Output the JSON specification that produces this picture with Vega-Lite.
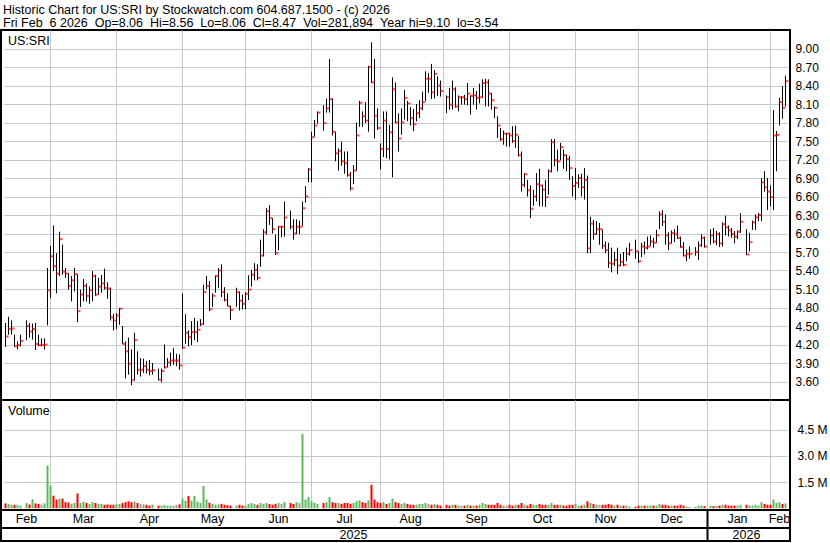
{
"$schema": "https://vega.github.io/schema/vega-lite/v6.json",
"padding": {"top": 4, "left": 0, "right": 0, "bottom": 0},
"background": "white",
"bounds": "flush",
"title": {"text": "Historic Chart for US:SRI by Stockwatch.com 604.687.1500 - (c) 2026", "subtitle": "Fri Feb \u00a06 2026 \u00a0Op=8.06 \u00a0Hi=8.56 \u00a0Lo=8.06 \u00a0Cl=8.47 \u00a0Vol=281,894 \u00a0Year hi=9.10 \u00a0lo=3.54", "anchor": "start", "frame": "group", "font": "Liberation Sans", "fontSize": 12.5, "fontWeight": "normal", "color": "black", "subtitleFont": "Liberation Sans", "subtitleFontSize": 12.5, "subtitleColor": "black", "subtitlePadding": 0, "offset": 0, "dx": 2},
"config": {
  "font": "Liberation Sans",
  "view": {"stroke": "black", "strokeWidth": 2},
  "axis": {"labelFont": "Liberation Sans", "labelFontSize": 12, "labelColor": "black", "gridColor": "#c8c8c8", "gridWidth": 1, "ticks": false, "domain": false, "title": null, "labelOverlap": false},
  "title": {"font": "Liberation Sans", "fontSize": 12.5, "fontWeight": "normal", "color": "black", "anchor": "start"}
},
"resolve": {"scale": {"x": "shared"}},
"spacing": 0,
"datasets": {
"px": [
{"d":"2025-02-07","h":4.55,"l":4.16,"c":4.33,"v":0.28,"dir":"down"},
{"d":"2025-02-10","h":4.65,"l":4.36,"c":4.45,"v":0.25,"dir":"up"},
{"d":"2025-02-11","h":4.59,"l":4.36,"c":4.46,"v":0.2,"dir":"up"},
{"d":"2025-02-12","h":4.36,"l":4.16,"c":4.17,"v":0.2,"dir":"down"},
{"d":"2025-02-13","h":4.25,"l":4.12,"c":4.19,"v":0.18,"dir":"up"},
{"d":"2025-02-14","h":4.36,"l":4.17,"c":4.26,"v":0.15,"dir":"up"},
{"d":"2025-02-17","v":0},
{"d":"2025-02-18","h":4.59,"l":4.27,"c":4.5,"v":0.3,"dir":"up"},
{"d":"2025-02-19","h":4.55,"l":4.31,"c":4.41,"v":0.22,"dir":"down"},
{"d":"2025-02-20","h":4.54,"l":4.28,"c":4.45,"v":0.52,"dir":"up"},
{"d":"2025-02-21","h":4.55,"l":4.11,"c":4.21,"v":0.28,"dir":"down"},
{"d":"2025-02-24","h":4.36,"l":4.17,"c":4.19,"v":0.25,"dir":"down"},
{"d":"2025-02-25","h":4.3,"l":4.17,"c":4.19,"v":0.2,"dir":"flat"},
{"d":"2025-02-26","h":4.3,"l":4.12,"c":4.2,"v":0.28,"dir":"up"},
{"d":"2025-02-27","h":5.44,"l":4.51,"c":5.08,"v":2.45,"dir":"up"},
{"d":"2025-02-28","h":5.8,"l":4.95,"c":5.63,"v":1.3,"dir":"up"},
{"d":"2025-03-03","h":6.13,"l":5.39,"c":5.47,"v":0.72,"dir":"down"},
{"d":"2025-03-04","h":5.68,"l":5.03,"c":5.35,"v":0.5,"dir":"down"},
{"d":"2025-03-05","h":6.03,"l":5.31,"c":5.91,"v":0.55,"dir":"up"},
{"d":"2025-03-06","h":5.82,"l":5.33,"c":5.38,"v":0.55,"dir":"down"},
{"d":"2025-03-07","h":5.44,"l":5.28,"c":5.35,"v":0.35,"dir":"down"},
{"d":"2025-03-10","h":5.36,"l":5.09,"c":5.15,"v":0.33,"dir":"down"},
{"d":"2025-03-11","h":5.31,"l":4.9,"c":5.24,"v":0.25,"dir":"up"},
{"d":"2025-03-12","h":5.44,"l":5.06,"c":5.34,"v":0.3,"dir":"up"},
{"d":"2025-03-13","h":5.34,"l":4.56,"c":4.74,"v":0.85,"dir":"down"},
{"d":"2025-03-14","h":5.09,"l":4.81,"c":5.01,"v":0.3,"dir":"up"},
{"d":"2025-03-17","h":5.26,"l":4.9,"c":5.15,"v":0.38,"dir":"up"},
{"d":"2025-03-18","h":5.19,"l":4.9,"c":4.99,"v":0.3,"dir":"down"},
{"d":"2025-03-19","h":5.14,"l":4.86,"c":5.08,"v":0.25,"dir":"up"},
{"d":"2025-03-20","h":5.39,"l":4.9,"c":5.31,"v":0.35,"dir":"up"},
{"d":"2025-03-21","h":5.33,"l":4.99,"c":5.01,"v":0.3,"dir":"down"},
{"d":"2025-03-24","h":5.28,"l":5.01,"c":5.14,"v":0.25,"dir":"up"},
{"d":"2025-03-25","h":5.33,"l":5.04,"c":5.19,"v":0.25,"dir":"up"},
{"d":"2025-03-26","h":5.43,"l":5.09,"c":5.12,"v":0.2,"dir":"down"},
{"d":"2025-03-27","h":5.21,"l":4.94,"c":5.11,"v":0.22,"dir":"down"},
{"d":"2025-03-28","h":5.12,"l":4.59,"c":4.64,"v":0.2,"dir":"down"},
{"d":"2025-03-31","h":4.7,"l":4.43,"c":4.59,"v":0.2,"dir":"down"},
{"d":"2025-04-01","h":4.71,"l":4.45,"c":4.67,"v":0.22,"dir":"up"},
{"d":"2025-04-02","h":4.79,"l":4.52,"c":4.78,"v":0.25,"dir":"up"},
{"d":"2025-04-03","h":4.5,"l":4.21,"c":4.21,"v":0.3,"dir":"down"},
{"d":"2025-04-04","h":4.25,"l":3.65,"c":4.09,"v":0.35,"dir":"down"},
{"d":"2025-04-07","h":4.31,"l":3.71,"c":3.89,"v":0.4,"dir":"down"},
{"d":"2025-04-08","h":4.12,"l":3.54,"c":3.62,"v":0.35,"dir":"down"},
{"d":"2025-04-09","h":4.39,"l":3.62,"c":4.27,"v":0.38,"dir":"up"},
{"d":"2025-04-10","h":4.09,"l":3.71,"c":3.79,"v":0.3,"dir":"down"},
{"d":"2025-04-11","h":3.98,"l":3.68,"c":3.79,"v":0.25,"dir":"flat"},
{"d":"2025-04-14","h":3.97,"l":3.74,"c":3.85,"v":0.22,"dir":"up"},
{"d":"2025-04-15","h":3.93,"l":3.73,"c":3.79,"v":0.2,"dir":"down"},
{"d":"2025-04-16","h":3.95,"l":3.7,"c":3.77,"v":0.15,"dir":"down"},
{"d":"2025-04-17","h":3.9,"l":3.71,"c":3.78,"v":0.2,"dir":"up"},
{"d":"2025-04-18","v":0},
{"d":"2025-04-21","h":3.81,"l":3.62,"c":3.63,"v":0.15,"dir":"down"},
{"d":"2025-04-22","h":3.81,"l":3.59,"c":3.77,"v":0.15,"dir":"up"},
{"d":"2025-04-23","h":4.2,"l":3.81,"c":3.83,"v":0.18,"dir":"up"},
{"d":"2025-04-24","h":3.98,"l":3.83,"c":3.91,"v":0.15,"dir":"up"},
{"d":"2025-04-25","h":4.07,"l":3.85,"c":3.94,"v":0.15,"dir":"up"},
{"d":"2025-04-28","h":4.14,"l":3.87,"c":3.94,"v":0.15,"dir":"flat"},
{"d":"2025-04-29","h":4.05,"l":3.85,"c":3.94,"v":0.2,"dir":"flat"},
{"d":"2025-04-30","h":4.04,"l":3.79,"c":3.86,"v":0.22,"dir":"down"},
{"d":"2025-05-01","h":5.03,"l":4.13,"c":4.15,"v":0.55,"dir":"up"},
{"d":"2025-05-02","h":4.69,"l":4.21,"c":4.39,"v":0.42,"dir":"up"},
{"d":"2025-05-05","h":4.43,"l":4.17,"c":4.32,"v":0.7,"dir":"down"},
{"d":"2025-05-06","h":4.58,"l":4.19,"c":4.4,"v":0.45,"dir":"up"},
{"d":"2025-05-07","h":4.63,"l":4.27,"c":4.4,"v":0.7,"dir":"up"},
{"d":"2025-05-08","h":4.58,"l":4.24,"c":4.44,"v":0.38,"dir":"up"},
{"d":"2025-05-09","h":4.61,"l":4.5,"c":4.53,"v":0.3,"dir":"up"},
{"d":"2025-05-12","h":5.17,"l":4.52,"c":5.05,"v":1.28,"dir":"up"},
{"d":"2025-05-13","h":5.31,"l":5.1,"c":5.15,"v":0.5,"dir":"up"},
{"d":"2025-05-14","h":5.23,"l":4.74,"c":4.77,"v":0.32,"dir":"down"},
{"d":"2025-05-15","h":5.03,"l":4.81,"c":4.99,"v":0.25,"dir":"up"},
{"d":"2025-05-16","h":5.32,"l":5.04,"c":5.31,"v":0.2,"dir":"up"},
{"d":"2025-05-19","h":5.44,"l":5.12,"c":5.4,"v":0.22,"dir":"up"},
{"d":"2025-05-20","h":5.5,"l":4.97,"c":5.05,"v":0.25,"dir":"down"},
{"d":"2025-05-21","h":5.13,"l":4.9,"c":4.92,"v":0.2,"dir":"down"},
{"d":"2025-05-22","h":5.03,"l":4.82,"c":4.82,"v":0.18,"dir":"down"},
{"d":"2025-05-23","h":4.83,"l":4.6,"c":4.76,"v":0.15,"dir":"down"},
{"d":"2025-05-26","v":0},
{"d":"2025-05-27","h":5.12,"l":4.81,"c":5.05,"v":0.15,"dir":"up"},
{"d":"2025-05-28","h":5.06,"l":4.75,"c":4.91,"v":0.2,"dir":"down"},
{"d":"2025-05-29","h":5.01,"l":4.77,"c":4.86,"v":0.15,"dir":"down"},
{"d":"2025-05-30","h":5.05,"l":4.77,"c":5.02,"v":0.15,"dir":"up"},
{"d":"2025-06-02","h":5.32,"l":4.92,"c":5.09,"v":0.25,"dir":"up"},
{"d":"2025-06-03","h":5.41,"l":5.14,"c":5.33,"v":0.3,"dir":"up"},
{"d":"2025-06-04","h":5.52,"l":5.24,"c":5.41,"v":0.25,"dir":"up"},
{"d":"2025-06-05","h":5.5,"l":5.24,"c":5.28,"v":0.2,"dir":"down"},
{"d":"2025-06-06","h":5.9,"l":5.46,"c":5.64,"v":0.3,"dir":"up"},
{"d":"2025-06-09","h":6.07,"l":5.63,"c":6.02,"v":0.25,"dir":"up"},
{"d":"2025-06-10","h":6.41,"l":5.98,"c":6.36,"v":0.3,"dir":"up"},
{"d":"2025-06-11","h":6.46,"l":6.14,"c":6.25,"v":0.25,"dir":"down"},
{"d":"2025-06-12","h":6.25,"l":6.0,"c":6.07,"v":0.2,"dir":"down"},
{"d":"2025-06-13","h":5.98,"l":5.65,"c":5.68,"v":0.25,"dir":"down"},
{"d":"2025-06-16","h":6.12,"l":5.73,"c":6.11,"v":0.3,"dir":"up"},
{"d":"2025-06-17","h":6.12,"l":5.94,"c":6.11,"v":0.25,"dir":"flat"},
{"d":"2025-06-18","h":6.52,"l":5.95,"c":6.26,"v":0.35,"dir":"up"},
{"d":"2025-06-19","v":0},
{"d":"2025-06-20","h":6.37,"l":6.07,"c":6.11,"v":0.3,"dir":"down"},
{"d":"2025-06-23","h":6.23,"l":5.9,"c":6.0,"v":0.25,"dir":"down"},
{"d":"2025-06-24","h":6.23,"l":5.99,"c":6.11,"v":0.35,"dir":"up"},
{"d":"2025-06-25","h":6.21,"l":5.99,"c":6.11,"v":0.3,"dir":"flat"},
{"d":"2025-06-26","h":6.52,"l":6.12,"c":6.41,"v":4.25,"dir":"up"},
{"d":"2025-06-27","h":6.77,"l":6.5,"c":6.6,"v":0.5,"dir":"up"},
{"d":"2025-06-30","h":7.06,"l":6.83,"c":7.04,"v":0.65,"dir":"up"},
{"d":"2025-07-01","h":7.65,"l":6.83,"c":7.56,"v":0.4,"dir":"up"},
{"d":"2025-07-02","h":7.84,"l":7.57,"c":7.75,"v":0.3,"dir":"up"},
{"d":"2025-07-03","h":7.98,"l":7.78,"c":7.96,"v":0.25,"dir":"up"},
{"d":"2025-07-04","v":0},
{"d":"2025-07-07","h":8.08,"l":7.67,"c":7.79,"v":0.3,"dir":"down"},
{"d":"2025-07-08","h":8.19,"l":7.96,"c":8.03,"v":0.35,"dir":"up"},
{"d":"2025-07-09","h":8.83,"l":7.96,"c":8.18,"v":0.65,"dir":"up"},
{"d":"2025-07-10","h":8.19,"l":7.59,"c":7.65,"v":0.35,"dir":"down"},
{"d":"2025-07-11","h":7.65,"l":7.17,"c":7.3,"v":0.3,"dir":"down"},
{"d":"2025-07-14","h":7.38,"l":7.02,"c":7.34,"v":0.3,"dir":"up"},
{"d":"2025-07-15","h":7.49,"l":7.1,"c":7.17,"v":0.25,"dir":"down"},
{"d":"2025-07-16","h":7.33,"l":6.97,"c":7.14,"v":0.3,"dir":"down"},
{"d":"2025-07-17","h":7.33,"l":6.92,"c":6.95,"v":0.3,"dir":"down"},
{"d":"2025-07-18","h":7.0,"l":6.7,"c":6.73,"v":0.25,"dir":"down"},
{"d":"2025-07-21","h":7.11,"l":6.8,"c":7.02,"v":0.3,"dir":"up"},
{"d":"2025-07-22","h":7.8,"l":7.02,"c":7.59,"v":0.4,"dir":"up"},
{"d":"2025-07-23","h":8.15,"l":7.73,"c":8.12,"v":0.45,"dir":"up"},
{"d":"2025-07-24","h":7.98,"l":7.73,"c":7.9,"v":0.35,"dir":"down"},
{"d":"2025-07-25","h":8.13,"l":7.79,"c":7.83,"v":0.3,"dir":"down"},
{"d":"2025-07-28","h":8.72,"l":7.65,"c":8.7,"v":0.45,"dir":"up"},
{"d":"2025-07-29","h":9.1,"l":8.44,"c":8.45,"v":1.35,"dir":"down"},
{"d":"2025-07-30","h":8.83,"l":7.54,"c":7.91,"v":0.5,"dir":"down"},
{"d":"2025-07-31","h":8.03,"l":7.68,"c":7.71,"v":0.35,"dir":"down"},
{"d":"2025-08-01","h":7.46,"l":7.04,"c":7.37,"v":0.3,"dir":"down"},
{"d":"2025-08-04","h":7.98,"l":7.24,"c":7.83,"v":0.35,"dir":"up"},
{"d":"2025-08-05","h":7.98,"l":7.22,"c":7.37,"v":0.25,"dir":"down"},
{"d":"2025-08-06","h":7.76,"l":7.2,"c":7.64,"v":0.3,"dir":"up"},
{"d":"2025-08-07","h":8.53,"l":6.91,"c":8.34,"v":0.55,"dir":"up"},
{"d":"2025-08-08","h":8.45,"l":7.79,"c":7.8,"v":0.35,"dir":"down"},
{"d":"2025-08-11","h":7.95,"l":7.33,"c":7.54,"v":0.3,"dir":"down"},
{"d":"2025-08-12","h":8.03,"l":7.6,"c":7.8,"v":0.25,"dir":"up"},
{"d":"2025-08-13","h":8.33,"l":7.85,"c":8.2,"v":0.3,"dir":"up"},
{"d":"2025-08-14","h":8.15,"l":7.82,"c":8.11,"v":0.25,"dir":"down"},
{"d":"2025-08-15","h":8.05,"l":7.75,"c":7.87,"v":0.2,"dir":"down"},
{"d":"2025-08-18","h":8.02,"l":7.66,"c":7.77,"v":0.2,"dir":"down"},
{"d":"2025-08-19","h":8.1,"l":7.82,"c":7.95,"v":0.2,"dir":"up"},
{"d":"2025-08-20","h":8.16,"l":7.87,"c":8.03,"v":0.25,"dir":"up"},
{"d":"2025-08-21","h":8.3,"l":8.0,"c":8.13,"v":0.25,"dir":"up"},
{"d":"2025-08-22","h":8.63,"l":8.15,"c":8.51,"v":0.3,"dir":"up"},
{"d":"2025-08-25","h":8.6,"l":8.28,"c":8.51,"v":0.25,"dir":"flat"},
{"d":"2025-08-26","h":8.75,"l":8.18,"c":8.29,"v":0.2,"dir":"down"},
{"d":"2025-08-27","h":8.65,"l":8.19,"c":8.59,"v":0.25,"dir":"up"},
{"d":"2025-08-28","h":8.55,"l":8.23,"c":8.4,"v":0.2,"dir":"down"},
{"d":"2025-08-29","h":8.48,"l":8.22,"c":8.31,"v":0.15,"dir":"down"},
{"d":"2025-09-01","v":0},
{"d":"2025-09-02","h":8.24,"l":7.95,"c":8.21,"v":0.2,"dir":"down"},
{"d":"2025-09-03","h":8.36,"l":8.01,"c":8.09,"v":0.15,"dir":"down"},
{"d":"2025-09-04","h":8.48,"l":8.01,"c":8.34,"v":0.2,"dir":"up"},
{"d":"2025-09-05","h":8.37,"l":8.04,"c":8.06,"v":0.2,"dir":"down"},
{"d":"2025-09-08","h":8.24,"l":7.98,"c":8.21,"v":0.15,"dir":"up"},
{"d":"2025-09-09","h":8.23,"l":8.09,"c":8.21,"v":0.15,"dir":"flat"},
{"d":"2025-09-10","h":8.25,"l":8.09,"c":8.18,"v":0.15,"dir":"down"},
{"d":"2025-09-11","h":8.44,"l":8.08,"c":8.27,"v":0.2,"dir":"up"},
{"d":"2025-09-12","h":8.24,"l":7.93,"c":8.23,"v":0.15,"dir":"down"},
{"d":"2025-09-15","h":8.36,"l":8.09,"c":8.24,"v":0.15,"dir":"up"},
{"d":"2025-09-16","h":8.31,"l":8.01,"c":8.2,"v":0.15,"dir":"down"},
{"d":"2025-09-17","h":8.43,"l":8.11,"c":8.21,"v":0.2,"dir":"up"},
{"d":"2025-09-18","h":8.5,"l":8.2,"c":8.44,"v":0.3,"dir":"up"},
{"d":"2025-09-19","h":8.51,"l":8.06,"c":8.45,"v":0.25,"dir":"up"},
{"d":"2025-09-22","h":8.5,"l":8.06,"c":8.27,"v":0.2,"dir":"down"},
{"d":"2025-09-23","h":8.28,"l":8.01,"c":8.16,"v":0.2,"dir":"down"},
{"d":"2025-09-24","h":8.06,"l":7.87,"c":8.04,"v":0.2,"dir":"down"},
{"d":"2025-09-25","h":7.9,"l":7.55,"c":7.75,"v":0.3,"dir":"down"},
{"d":"2025-09-26","h":7.71,"l":7.5,"c":7.53,"v":0.2,"dir":"down"},
{"d":"2025-09-29","h":7.67,"l":7.44,"c":7.62,"v":0.15,"dir":"up"},
{"d":"2025-09-30","h":7.63,"l":7.41,"c":7.62,"v":0.15,"dir":"flat"},
{"d":"2025-10-01","h":7.63,"l":7.41,"c":7.59,"v":0.2,"dir":"down"},
{"d":"2025-10-02","h":7.74,"l":7.47,"c":7.5,"v":0.15,"dir":"down"},
{"d":"2025-10-03","h":7.75,"l":7.39,"c":7.6,"v":0.2,"dir":"up"},
{"d":"2025-10-06","h":7.58,"l":7.25,"c":7.27,"v":0.2,"dir":"down"},
{"d":"2025-10-07","h":7.33,"l":6.68,"c":6.79,"v":0.3,"dir":"down"},
{"d":"2025-10-08","h":6.98,"l":6.75,"c":6.96,"v":0.2,"dir":"up"},
{"d":"2025-10-09","h":6.87,"l":6.6,"c":6.7,"v":0.15,"dir":"down"},
{"d":"2025-10-10","h":6.78,"l":6.25,"c":6.4,"v":0.25,"dir":"down"},
{"d":"2025-10-13","h":6.71,"l":6.45,"c":6.6,"v":0.2,"dir":"up"},
{"d":"2025-10-14","h":6.98,"l":6.52,"c":6.8,"v":0.2,"dir":"up"},
{"d":"2025-10-15","h":7.05,"l":6.44,"c":6.78,"v":0.25,"dir":"down"},
{"d":"2025-10-16","h":6.79,"l":6.44,"c":6.71,"v":0.2,"dir":"down"},
{"d":"2025-10-17","h":6.87,"l":6.43,"c":6.59,"v":0.2,"dir":"down"},
{"d":"2025-10-20","h":7.04,"l":6.63,"c":7.01,"v":0.2,"dir":"up"},
{"d":"2025-10-21","h":7.53,"l":6.99,"c":7.48,"v":0.3,"dir":"up"},
{"d":"2025-10-22","h":7.53,"l":7.09,"c":7.19,"v":0.2,"dir":"down"},
{"d":"2025-10-23","h":7.36,"l":7.01,"c":7.17,"v":0.2,"dir":"down"},
{"d":"2025-10-24","h":7.47,"l":7.19,"c":7.4,"v":0.2,"dir":"up"},
{"d":"2025-10-27","h":7.36,"l":7.05,"c":7.27,"v":0.15,"dir":"down"},
{"d":"2025-10-28","h":7.28,"l":7.01,"c":7.21,"v":0.15,"dir":"down"},
{"d":"2025-10-29","h":7.26,"l":6.87,"c":7.06,"v":0.2,"dir":"down"},
{"d":"2025-10-30","h":6.93,"l":6.6,"c":6.77,"v":0.2,"dir":"down"},
{"d":"2025-10-31","h":7.06,"l":6.55,"c":6.82,"v":0.25,"dir":"up"},
{"d":"2025-11-03","h":6.96,"l":6.74,"c":6.9,"v":0.15,"dir":"up"},
{"d":"2025-11-04","h":6.97,"l":6.6,"c":6.75,"v":0.15,"dir":"down"},
{"d":"2025-11-05","h":7.06,"l":6.55,"c":6.87,"v":0.2,"dir":"up"},
{"d":"2025-11-06","h":6.94,"l":5.68,"c":5.76,"v":0.4,"dir":"down"},
{"d":"2025-11-07","h":6.27,"l":5.68,"c":6.16,"v":0.3,"dir":"up"},
{"d":"2025-11-10","h":6.22,"l":5.9,"c":5.99,"v":0.25,"dir":"down"},
{"d":"2025-11-11","h":6.2,"l":5.98,"c":6.07,"v":0.2,"dir":"up"},
{"d":"2025-11-12","h":6.17,"l":5.82,"c":6.07,"v":0.2,"dir":"flat"},
{"d":"2025-11-13","h":6.06,"l":5.75,"c":5.8,"v":0.2,"dir":"down"},
{"d":"2025-11-14","h":5.87,"l":5.68,"c":5.73,"v":0.2,"dir":"down"},
{"d":"2025-11-17","h":5.85,"l":5.44,"c":5.52,"v":0.25,"dir":"down"},
{"d":"2025-11-18","h":5.77,"l":5.37,"c":5.51,"v":0.2,"dir":"down"},
{"d":"2025-11-19","h":5.7,"l":5.47,"c":5.57,"v":0.15,"dir":"up"},
{"d":"2025-11-20","h":5.77,"l":5.34,"c":5.48,"v":0.2,"dir":"down"},
{"d":"2025-11-21","h":5.67,"l":5.47,"c":5.54,"v":0.15,"dir":"up"},
{"d":"2025-11-24","h":5.7,"l":5.47,"c":5.49,"v":0.15,"dir":"down"},
{"d":"2025-11-25","h":5.77,"l":5.55,"c":5.67,"v":0.15,"dir":"up"},
{"d":"2025-11-26","h":5.85,"l":5.64,"c":5.73,"v":0.1,"dir":"up"},
{"d":"2025-11-27","v":0},
{"d":"2025-11-28","h":5.9,"l":5.59,"c":5.71,"v":0.08,"dir":"down"},
{"d":"2025-12-01","h":5.71,"l":5.52,"c":5.55,"v":0.15,"dir":"down"},
{"d":"2025-12-02","h":5.85,"l":5.62,"c":5.79,"v":0.15,"dir":"up"},
{"d":"2025-12-03","h":5.87,"l":5.66,"c":5.77,"v":0.15,"dir":"down"},
{"d":"2025-12-04","h":5.95,"l":5.74,"c":5.79,"v":0.15,"dir":"up"},
{"d":"2025-12-05","h":5.97,"l":5.8,"c":5.87,"v":0.15,"dir":"up"},
{"d":"2025-12-08","h":5.93,"l":5.77,"c":5.85,"v":0.15,"dir":"down"},
{"d":"2025-12-09","h":6.06,"l":5.85,"c":5.97,"v":0.15,"dir":"up"},
{"d":"2025-12-10","h":6.36,"l":6.07,"c":6.31,"v":0.25,"dir":"up"},
{"d":"2025-12-11","h":6.38,"l":6.12,"c":6.19,"v":0.2,"dir":"down"},
{"d":"2025-12-12","h":6.31,"l":5.82,"c":5.97,"v":0.2,"dir":"down"},
{"d":"2025-12-15","h":6.02,"l":5.73,"c":5.84,"v":0.15,"dir":"down"},
{"d":"2025-12-16","h":6.05,"l":5.84,"c":6.01,"v":0.15,"dir":"up"},
{"d":"2025-12-17","h":6.07,"l":5.86,"c":5.99,"v":0.15,"dir":"down"},
{"d":"2025-12-18","h":6.13,"l":5.91,"c":5.93,"v":0.15,"dir":"down"},
{"d":"2025-12-19","h":5.95,"l":5.77,"c":5.78,"v":0.2,"dir":"down"},
{"d":"2025-12-22","h":5.86,"l":5.63,"c":5.64,"v":0.15,"dir":"down"},
{"d":"2025-12-23","h":5.74,"l":5.55,"c":5.67,"v":0.1,"dir":"up"},
{"d":"2025-12-24","h":5.79,"l":5.59,"c":5.67,"v":0.08,"dir":"flat"},
{"d":"2025-12-25","v":0},
{"d":"2025-12-26","h":5.78,"l":5.64,"c":5.7,"v":0.08,"dir":"up"},
{"d":"2025-12-29","h":5.87,"l":5.57,"c":5.81,"v":0.15,"dir":"up"},
{"d":"2025-12-30","h":5.99,"l":5.78,"c":5.93,"v":0.15,"dir":"up"},
{"d":"2025-12-31","h":5.95,"l":5.77,"c":5.79,"v":0.12,"dir":"down"},
{"d":"2026-01-01","v":0},
{"d":"2026-01-02","h":6.07,"l":5.82,"c":5.97,"v":0.15,"dir":"up"},
{"d":"2026-01-05","h":6.09,"l":5.84,"c":5.87,"v":0.12,"dir":"down"},
{"d":"2026-01-06","h":6.04,"l":5.81,"c":5.99,"v":0.15,"dir":"up"},
{"d":"2026-01-07","h":6.02,"l":5.78,"c":5.84,"v":0.15,"dir":"down"},
{"d":"2026-01-08","h":6.18,"l":5.79,"c":6.15,"v":0.2,"dir":"up"},
{"d":"2026-01-09","h":6.29,"l":5.97,"c":6.1,"v":0.2,"dir":"down"},
{"d":"2026-01-12","h":6.13,"l":5.95,"c":6.05,"v":0.15,"dir":"down"},
{"d":"2026-01-13","h":6.09,"l":5.93,"c":5.99,"v":0.15,"dir":"down"},
{"d":"2026-01-14","h":6.04,"l":5.84,"c":5.95,"v":0.15,"dir":"down"},
{"d":"2026-01-15","h":6.05,"l":5.91,"c":6.03,"v":0.15,"dir":"up"},
{"d":"2026-01-16","h":6.33,"l":6.01,"c":6.19,"v":0.2,"dir":"up"},
{"d":"2026-01-19","v":0},
{"d":"2026-01-20","h":6.07,"l":5.65,"c":5.66,"v":0.2,"dir":"down"},
{"d":"2026-01-21","h":6.01,"l":5.71,"c":5.86,"v":0.15,"dir":"up"},
{"d":"2026-01-22","h":6.21,"l":6.06,"c":6.18,"v":0.15,"dir":"up"},
{"d":"2026-01-23","h":6.31,"l":6.06,"c":6.26,"v":0.2,"dir":"up"},
{"d":"2026-01-26","h":6.33,"l":6.2,"c":6.3,"v":0.15,"dir":"up"},
{"d":"2026-01-27","h":6.9,"l":6.2,"c":6.83,"v":0.35,"dir":"up"},
{"d":"2026-01-28","h":7.01,"l":6.68,"c":6.75,"v":0.25,"dir":"down"},
{"d":"2026-01-29","h":6.9,"l":6.38,"c":6.68,"v":0.2,"dir":"down"},
{"d":"2026-01-30","h":6.78,"l":6.44,"c":6.59,"v":0.2,"dir":"down"},
{"d":"2026-02-02","h":8.0,"l":6.38,"c":7.59,"v":0.5,"dir":"up"},
{"d":"2026-02-03","h":7.66,"l":7.01,"c":7.6,"v":0.3,"dir":"up"},
{"d":"2026-02-04","h":8.2,"l":7.75,"c":8.13,"v":0.35,"dir":"up"},
{"d":"2026-02-05","h":8.39,"l":7.86,"c":8.04,"v":0.25,"dir":"down"},
{"d":"2026-02-06","h":8.56,"l":8.06,"c":8.47,"v":0.28,"dir":"up"}
],
"months": [
{"d":"2025-02-18","m":"Feb"},{"d":"2025-03-17","m":"Mar"},{"d":"2025-04-16","m":"Apr"},{"d":"2025-05-15","m":"May"},{"d":"2025-06-16","m":"Jun"},{"d":"2025-07-16","m":"Jul"},{"d":"2025-08-15","m":"Aug"},{"d":"2025-09-16","m":"Sep"},{"d":"2025-10-16","m":"Oct"},{"d":"2025-11-14","m":"Nov"},{"d":"2025-12-16","m":"Dec"},{"d":"2026-01-15","m":"Jan"},{"d":"2026-02-04","m":"Feb"}
],
"years": [{"d":"2025-07-21","y":"2025"},{"d":"2026-01-20","y":"2026"}],
"sep": [{"d":"2026-01-01"}]
},
"vconcat": [
{
  "width": 789, "height": 370,
  "title": {"text": "US:SRI", "offset": -17, "dx": 7},
  "data": {"name": "px"},
  "encoding": {"x": {"field": "d", "type": "ordinal", "scale": {"type": "band", "paddingInner": 0, "paddingOuter": 0, "range": [3, 786]},
     "axis": {"orient": "bottom", "labels": false, "grid": true, "bandPosition": 0.5, "minExtent": 0, "maxExtent": 0, "values": ["2025-02-28","2025-04-01","2025-05-01","2025-05-30","2025-07-01","2025-08-01","2025-09-01","2025-10-01","2025-10-31","2025-12-01","2026-01-01","2026-01-30"]}}},
  "layer": [
    {"mark": {"type": "rule", "color": "black", "strokeWidth": 1},
     "encoding": {"y": {"field": "l", "type": "quantitative", "scale": {"domain": [3.3, 9.3], "nice": false, "zero": false},
        "axis": {"orient": "right", "grid": true, "format": ".2f", "labelPadding": 5, "tickCount": 40, "values": [3.6,3.9,4.2,4.5,4.8,5.1,5.4,5.7,6.0,6.3,6.6,6.9,7.2,7.5,7.8,8.1,8.4,8.7,9.0]}},
      "y2": {"field": "h"}}},
    {"mark": {"type": "tick", "color": "#ff0000", "thickness": 2, "size": 3, "xOffset": 1.5},
     "encoding": {"y": {"field": "c", "type": "quantitative"}}}
  ]
},
{
  "width": 789, "height": 110,
  "title": {"text": "Volume", "offset": -17, "dx": 7},
  "data": {"name": "px"},
  "mark": {"type": "bar", "width": 2},
  "encoding": {
    "x": {"field": "d", "type": "ordinal", "scale": {"type": "band", "paddingInner": 0, "paddingOuter": 0, "range": [3, 786]},
      "axis": {"orient": "bottom", "labels": false, "grid": true, "bandPosition": 0.5, "minExtent": 0, "maxExtent": 0, "values": ["2025-02-28","2025-04-01","2025-05-01","2025-05-30","2025-07-01","2025-08-01","2025-09-01","2025-10-01","2025-10-31","2025-12-01","2026-01-01","2026-01-30"]}},
    "y": {"field": "v", "type": "quantitative", "scale": {"domain": [-0.1, 6.2], "nice": false, "zero": false},
      "axis": {"orient": "right", "grid": true, "tickCount": 10, "values": [1.5, 3, 4.5], "labelExpr": "format(datum.value, '.1f') + ' M'", "labelPadding": 7}},
    "y2": {"datum": 0},
    "color": {"field": "dir", "type": "nominal", "legend": null, "scale": {"domain": ["up", "down", "flat"], "range": ["#5cb85c", "#ff0000", "#a0a0a0"]}}
  }
},
{
  "width": 789, "height": 18,
  "layer": [
    {"data": {"name": "months"}, "mark": {"type": "text", "fontSize": 12.5, "color": "black"},
     "encoding": {"x": {"field": "d", "type": "ordinal", "scale": {"type": "band", "paddingInner": 0, "paddingOuter": 0, "range": [3, 786]}, "axis": null}, "text": {"field": "m"}}},
    {"data": {"name": "sep"}, "mark": {"type": "rule", "color": "black", "strokeWidth": 2},
     "encoding": {"x": {"field": "d", "type": "ordinal", "scale": {"type": "band", "paddingInner": 0, "paddingOuter": 0, "range": [3, 786]}, "axis": null}}}
  ]
},
{
  "width": 789, "height": 13,
  "layer": [
    {"data": {"name": "years"}, "mark": {"type": "text", "fontSize": 12.5, "color": "black"},
     "encoding": {"x": {"field": "d", "type": "ordinal", "scale": {"type": "band", "paddingInner": 0, "paddingOuter": 0, "range": [3, 786]}, "axis": null}, "text": {"field": "y"}}},
    {"data": {"name": "sep"}, "mark": {"type": "rule", "color": "black", "strokeWidth": 2},
     "encoding": {"x": {"field": "d", "type": "ordinal", "scale": {"type": "band", "paddingInner": 0, "paddingOuter": 0, "range": [3, 786]}, "axis": null}}}
  ]
}
]
}
